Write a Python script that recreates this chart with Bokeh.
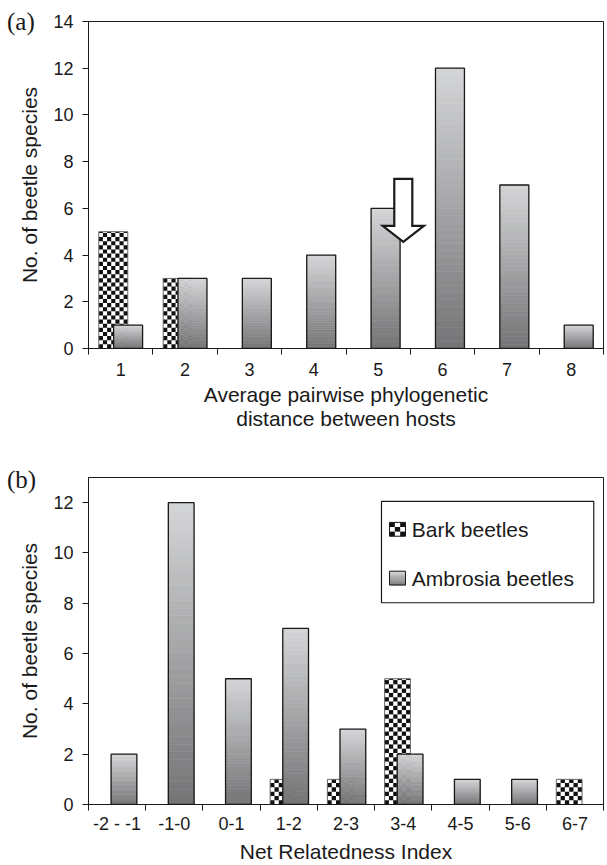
from bokeh.plotting import figure
from bokeh.models import Range1d, FixedTicker, Label, Div
from bokeh.layouts import column
from bokeh.embed import file_html
from bokeh.resources import INLINE

# ---------------- data ----------------
A_CATS = ["1", "2", "3", "4", "5", "6", "7", "8"]
A_BARK = [5, 3, 0, 0, 0, 0, 0, 0]
A_AMBROSIA = [1, 3, 3, 4, 6, 12, 7, 1]
A_YTICKS = [0, 2, 4, 6, 8, 10, 12, 14]
A_YMAX = 14
A_MEAN_X = 5.39          # position of the arrow (category units)
A_MEAN_TOP = 7.26
A_MEAN_TIP = 4.57

B_CATS = ["-2 - -1", "-1-0", "0-1", "1-2", "2-3", "3-4", "4-5", "5-6", "6-7"]
B_BARK = [0, 0, 0, 1, 1, 5, 0, 0, 1]
B_AMBROSIA = [2, 12, 5, 7, 3, 2, 1, 1, 0]
B_YTICKS = [0, 2, 4, 6, 8, 10, 12]
B_YMAX = 13

SERIES = ["Bark beetles", "Ambrosia beetles"]
PANELS = ["(a)", "(b)"]

FONT = "Liberation Sans"
SERIF = "Liberation Serif"
INK = "#1a1a1a"
LIGHT = (212, 213, 215)
DARK = (116, 116, 118)
TICK_FS = "18px"


def hexcol(t):
    r = [int(round(DARK[i] + (LIGHT[i] - DARK[i]) * t)) for i in range(3)]
    return "#%02x%02x%02x" % tuple(r)


def gradient_bars(p, xs, vals, w, n=40):
    L, R, B, T, C = [], [], [], [], []
    for x, v in zip(xs, vals):
        if v <= 0:
            continue
        for k in range(n):
            L.append(x - w / 2); R.append(x + w / 2)
            B.append(v * k / n); T.append(v * (k + 1) / n)
            C.append(hexcol((k + 0.5) / n))
    p.quad(left=L, right=R, bottom=B, top=T, fill_color=C, line_color=C, line_width=0.6)
    OL = [x - w / 2 for x, v in zip(xs, vals) if v > 0]
    OR = [x + w / 2 for x, v in zip(xs, vals) if v > 0]
    OT = [v for v in vals if v > 0]
    p.quad(left=OL, right=OR, bottom=0, top=OT, fill_color=None, line_color=INK, line_width=1.3)


def checker_bars(p, xs, vals, w, ncol, sy):
    sx = w / ncol
    p.quad(left=[x - w / 2 for x, v in zip(xs, vals) if v > 0],
           right=[x + w / 2 for x, v in zip(xs, vals) if v > 0],
           bottom=0, top=[v for v in vals if v > 0],
           fill_color="white", line_color=None)
    L, R, B, T = [], [], [], []
    for x, v in zip(xs, vals):
        if v <= 0:
            continue
        i = 0
        while i * sy < v - 1e-9:
            for j in range(ncol):
                if (i + j) % 2 == 0:
                    L.append(x - w / 2 + j * sx); R.append(x - w / 2 + (j + 1) * sx)
                    B.append(i * sy); T.append(min((i + 1) * sy, v))
            i += 1
    p.quad(left=L, right=R, bottom=B, top=T, fill_color="#111111", line_color=None)
    p.quad(left=[x - w / 2 for x, v in zip(xs, vals) if v > 0],
           right=[x + w / 2 for x, v in zip(xs, vals) if v > 0],
           bottom=0, top=[v for v in vals if v > 0],
           fill_color=None, line_color="#666666", line_width=1)


def style(p, ncat, yticks, labels=None):
    p.xgrid.visible = False
    p.ygrid.visible = False
    p.outline_line_color = INK
    p.outline_line_width = 1
    ax = p.xaxis[0]
    ax.ticker = FixedTicker(ticks=list(range(1, ncat + 1)),
                            minor_ticks=[i + 0.5 for i in range(ncat + 1)])
    ax.major_tick_line_color = None
    ax.minor_tick_in = 0
    ax.minor_tick_out = 6
    ax.minor_tick_line_color = INK
    ax.axis_line_color = INK
    ax.major_label_text_font = FONT
    ax.major_label_text_font_size = TICK_FS
    ax.major_label_text_color = INK
    ax.axis_label_text_font = FONT
    ax.axis_label_text_font_size = "21px"
    ax.axis_label_text_font_style = "normal"
    ax.axis_label_text_color = INK
    ax.axis_label_text_line_height = 1.05
    if labels:
        ax.major_label_overrides = {i + 1: l for i, l in enumerate(labels)}
    ay = p.yaxis[0]
    ay.ticker = FixedTicker(ticks=yticks)
    ay.minor_tick_line_color = None
    ay.major_tick_in = 0
    ay.major_tick_out = 6
    ay.major_tick_line_color = INK
    ay.axis_line_color = INK
    ay.major_label_text_font = FONT
    ay.major_label_text_font_size = TICK_FS
    ay.major_label_text_color = INK
    ay.major_label_standoff = 9
    ay.axis_label = "No. of beetle species"
    ay.axis_label_text_font = FONT
    ay.axis_label_text_font_size = "21px"
    ay.axis_label_text_font_style = "normal"
    ay.axis_label_text_color = INK
    ay.axis_label_standoff = 9


# ---------------- panel (a) ----------------
WA, HA = 606, 432
pa = figure(width=WA, height=HA, output_backend="svg", toolbar_location=None,
            x_range=Range1d(0.5, len(A_CATS) + 0.5), y_range=Range1d(0, A_YMAX),
            min_border_left=88, min_border_right=3, min_border_top=21, min_border_bottom=83)
style(pa, len(A_CATS), A_YTICKS)
pa.xaxis[0].axis_label = "Average pairwise phylogenetic\ndistance between hosts"
pa.xaxis[0].major_label_standoff = 8
pa.xaxis[0].axis_label_standoff = 4

xa = list(range(1, len(A_CATS) + 1))
W = 0.45
fw_a, fh_a = WA - 91, HA - 104
sq_px = W * fw_a / len(A_CATS) / 7
checker_bars(pa, [x - 0.115 for x in xa], A_BARK, W, 7, sq_px / (fh_a / A_YMAX))
gradient_bars(pa, [x + 0.115 for x in xa], A_AMBROSIA, W)

# arrow marking the mean
sw, hw = 0.14, 0.32
head_base = 5.25
ax_ = [A_MEAN_X - sw, A_MEAN_X + sw, A_MEAN_X + sw, A_MEAN_X + hw, A_MEAN_X,
       A_MEAN_X - hw, A_MEAN_X - sw]
ay_ = [A_MEAN_TOP, A_MEAN_TOP, head_base, head_base, A_MEAN_TIP, head_base, head_base]
pa.patch(ax_, ay_, fill_color="white", line_color=INK, line_width=2.2, line_join="miter")

# ---------------- panel (b) ----------------
WB, HB = 606, 433
pb = figure(width=WB, height=HB, output_backend="svg", toolbar_location=None,
            x_range=Range1d(0.5, len(B_CATS) + 0.5), y_range=Range1d(0, B_YMAX),
            min_border_left=88, min_border_right=3, min_border_top=45, min_border_bottom=61)
style(pb, len(B_CATS), B_YTICKS, B_CATS)
pb.xaxis[0].axis_label = "Net Relatedness Index"
pb.xaxis[0].major_label_standoff = 3
pb.xaxis[0].axis_label_standoff = 3

xb = list(range(1, len(B_CATS) + 1))
fw_b, fh_b = WB - 91, HB - 106
sq_px_b = W * fw_b / len(B_CATS) / 6
sy_b = sq_px_b / (fh_b / B_YMAX)
checker_bars(pb, [x - 0.10 for x in xb], B_BARK, W, 6, sy_b)
gradient_bars(pb, [x + 0.12 for x in xb], B_AMBROSIA, W)

# legend
LX0, LX1, LY0, LY1 = 5.62, 9.33, 8.02, 12.05
pb.quad(left=[LX0], right=[LX1], bottom=[LY0], top=[LY1], fill_color="white",
        line_color=INK, line_width=1.2)
SWX, SWW, SWH = 5.9, 0.28, 0.55
rows_y = [10.94, 9.0]
n3 = 3
sL, sR, sB, sT = [], [], [], []
for i in range(n3):
    for j in range(n3):
        if (i + j) % 2 == 0:
            sL.append(SWX - SWW / 2 + j * SWW / n3); sR.append(SWX - SWW / 2 + (j + 1) * SWW / n3)
            sB.append(rows_y[0] - SWH / 2 + i * SWH / n3); sT.append(rows_y[0] - SWH / 2 + (i + 1) * SWH / n3)
pb.quad(left=sL, right=sR, bottom=sB, top=sT, fill_color="#111111", line_color=None)
pb.quad(left=[SWX - SWW / 2], right=[SWX + SWW / 2], bottom=[rows_y[0] - SWH / 2],
        top=[rows_y[0] + SWH / 2], fill_color=None, line_color=INK, line_width=1)
ng = 12
gL, gR, gB, gT, gC = [], [], [], [], []
for k in range(ng):
    gL.append(SWX - SWW / 2); gR.append(SWX + SWW / 2)
    gB.append(rows_y[1] - SWH / 2 + k * SWH / ng); gT.append(rows_y[1] - SWH / 2 + (k + 1) * SWH / ng)
    gC.append(hexcol((k + 0.5) / ng))
pb.quad(left=gL, right=gR, bottom=gB, top=gT, fill_color=gC, line_color=gC, line_width=0.5)
pb.quad(left=[SWX - SWW / 2], right=[SWX + SWW / 2], bottom=[rows_y[1] - SWH / 2],
        top=[rows_y[1] + SWH / 2], fill_color=None, line_color=INK, line_width=1)
for name, yy in zip(SERIES, rows_y):
    pb.add_layout(Label(x=SWX + 0.25, y=yy, text=name, text_font=FONT, text_font_size="21px",
                        text_color=INK, text_baseline="middle"))


def panel_tag(txt, top):
    return Div(text=txt, margin=0,
               styles={"position": "absolute", "left": "7px", "top": "%dpx" % top,
                       "font-family": SERIF, "font-size": "25px", "line-height": "1",
                       "color": INK, "z-index": "10"})


layout = column(pa, pb, panel_tag(PANELS[0], 9), panel_tag(PANELS[1], 467))
open("out.html", "w").write(file_html(layout, INLINE))
